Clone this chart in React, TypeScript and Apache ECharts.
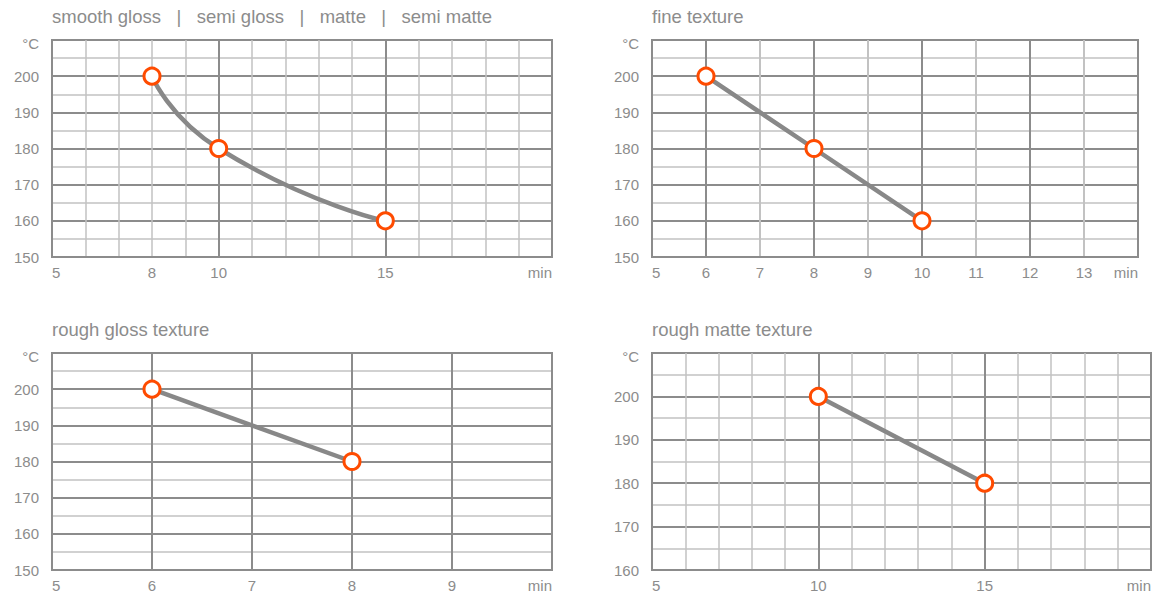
import React, { useEffect, useRef } from "react";
import * as echarts from "echarts";

// ---- data ----
const panelTitles = [
  "smooth gloss   |   semi gloss   |   matte   |   semi matte",
  "fine texture",
  "rough gloss texture",
  "rough matte texture",
];

const smoothGlossTime = [8, 10, 15];
const smoothGlossTemp = [200, 180, 160];

const fineTextureTime = [6, 8, 10];
const fineTextureTemp = [200, 180, 160];

const roughGlossTime = [6, 8];
const roughGlossTemp = [200, 180];

const roughMatteTime = [10, 15];
const roughMatteTemp = [200, 180];

const smoothGlossXTicks = [5, 8, 10, 15, 20];
const fineTextureXTicks = [5, 6, 7, 8, 9, 10, 11, 12, 13, 14];
const roughGlossXTicks = [5, 6, 7, 8, 9, 10];
const roughMatteXTicks = [5, 10, 15, 20];

const xUnit = "min";
const yUnit = "°C";

// ---- styling / layout ----
const FONT = "'Liberation Sans', Arial, Helvetica, sans-serif";
const TEXT = "#8c8c8c";
const DARK = "#8c8c8c";
const LIGHT = "#c2c2c2";
const ORANGE = "#ff4b00";

type Panel = {
  title: string;
  left: number;
  top: number;
  width: number;
  height: number;
  titleTop: number;
  xMin: number;
  xMax: number;
  xInterval: number;
  xMinorSplit: number; // 0 = none
  xColors: string[];
  xTicks: number[];
  yMin: number;
  yMax: number;
  time: number[];
  temp: number[];
  smooth: boolean;
};

const panels: Panel[] = [
  {
    title: panelTitles[0], left: 52, top: 40, width: 500, height: 217, titleTop: 7,
    xMin: 5, xMax: 20, xInterval: 5, xMinorSplit: 5, xColors: [DARK], xTicks: smoothGlossXTicks,
    yMin: 150, yMax: 210, time: smoothGlossTime, temp: smoothGlossTemp, smooth: true,
  },
  {
    title: panelTitles[1], left: 652, top: 40, width: 486, height: 217, titleTop: 7,
    xMin: 5, xMax: 14, xInterval: 1, xMinorSplit: 0, xColors: [LIGHT, DARK], xTicks: fineTextureXTicks,
    yMin: 150, yMax: 210, time: fineTextureTime, temp: fineTextureTemp, smooth: false,
  },
  {
    title: panelTitles[2], left: 52, top: 353, width: 500, height: 217, titleTop: 320,
    xMin: 5, xMax: 10, xInterval: 1, xMinorSplit: 0, xColors: [DARK], xTicks: roughGlossXTicks,
    yMin: 150, yMax: 210, time: roughGlossTime, temp: roughGlossTemp, smooth: false,
  },
  {
    title: panelTitles[3], left: 652, top: 353, width: 499, height: 217, titleTop: 320,
    xMin: 5, xMax: 20, xInterval: 5, xMinorSplit: 5, xColors: [DARK], xTicks: roughMatteXTicks,
    yMin: 160, yMax: 210, time: roughMatteTime, temp: roughMatteTemp, smooth: false,
  },
];

function buildOption() {
  const labelStyle = { color: TEXT, fontSize: 15, fontFamily: FONT };
  return {
    animation: false,
    backgroundColor: "#ffffff",
    textStyle: { fontFamily: FONT },
    title: panels.map((p) => ({
      text: p.title,
      left: p.left,
      top: p.titleTop,
      padding: 0,
      textStyle: { color: TEXT, fontSize: 18.5, fontWeight: "normal", fontFamily: FONT },
    })),
    grid: panels.map((p) => ({
      left: p.left,
      top: p.top,
      width: p.width,
      height: p.height,
      show: true,
      borderColor: DARK,
      borderWidth: 2,
      backgroundColor: "transparent",
      containLabel: false,
      outerBoundsMode: "none",
    })),
    xAxis: panels.map((p, i) => ({
      type: "value",
      gridIndex: i,
      min: p.xMin,
      max: p.xMax,
      interval: p.xInterval,
      axisLine: { show: true, lineStyle: { color: DARK, width: 2 } },
      axisTick: { show: false },
      minorTick: { show: false, splitNumber: p.xMinorSplit || 5 },
      splitLine: { show: true, lineStyle: { color: p.xColors, width: 2 } },
      minorSplitLine: { show: p.xMinorSplit > 0, lineStyle: { color: LIGHT, width: 1.5 } },
      axisLabel: {
        ...labelStyle,
        margin: 8,
        customValues: p.xTicks,
        showMinLabel: true,
        showMaxLabel: true,
        alignMinLabel: "left",
        alignMaxLabel: "right",
        formatter: (v: number) => (v === p.xMax ? xUnit : String(v)),
      },
    })),
    yAxis: panels.map((p, i) => ({
      type: "value",
      gridIndex: i,
      min: p.yMin,
      max: p.yMax,
      interval: 10,
      axisLine: { show: true, lineStyle: { color: DARK, width: 2 } },
      axisTick: { show: false },
      minorTick: { show: false, splitNumber: 2 },
      splitLine: { show: true, lineStyle: { color: DARK, width: 2 } },
      minorSplitLine: { show: true, lineStyle: { color: LIGHT, width: 1.5 } },
      axisLabel: {
        ...labelStyle,
        margin: 13,
        showMinLabel: true,
        showMaxLabel: true,
        formatter: (v: number) => (v === p.yMax ? "{u|" + yUnit + "}" : String(v)),
        rich: { u: { ...labelStyle, padding: [6, 0, 0, 0] } },
      },
    })),
    series: panels.map((p, i) => ({
      type: "line",
      xAxisIndex: i,
      yAxisIndex: i,
      data: p.time.map((t, k) => [t, p.temp[k]]),
      smooth: p.smooth ? 0.6 : false,
      symbol: "circle",
      symbolSize: 16,
      showSymbol: true,
      lineStyle: { color: "#888888", width: 4.5 },
      itemStyle: { color: "#ffffff", borderColor: ORANGE, borderWidth: 3 },
      z: 5,
    })),
  };
}

export default function App() {
  const ref = useRef<HTMLDivElement | null>(null);
  useEffect(() => {
    if (!ref.current) return;
    const chart = echarts.init(ref.current, undefined, { renderer: "svg" });
    chart.setOption(buildOption() as any);
    return () => chart.dispose();
  }, []);
  return (
    <div
      ref={ref}
      style={{ position: "absolute", left: 0, top: 0, width: 1155, height: 594, background: "#fff" }}
    />
  );
}
